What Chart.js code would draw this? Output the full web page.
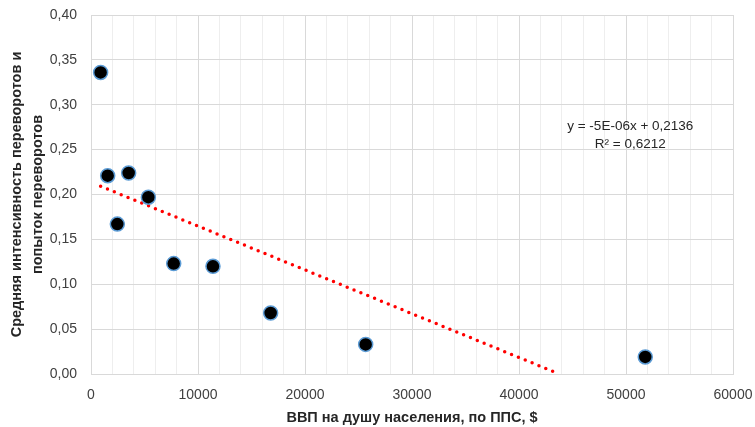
<!DOCTYPE html>
<html>
<head>
<meta charset="utf-8">
<script src="https://cdn.jsdelivr.net/npm/chart.js@4/dist/chart.umd.min.js"></script>
<style>
html,body{margin:0;padding:0;background:#fff;}
#wrap{width:755px;height:427px;position:relative;}
</style>
</head>
<body>
<div id="wrap"><canvas id="c" width="755" height="427"></canvas></div>
<script>
// Data
const gdpValues = [900, 1560, 2460, 3520, 5360, 7730, 11400, 16790, 25670, 51800];
const coupValues = [0.336, 0.221, 0.167, 0.224, 0.197, 0.123, 0.120, 0.068, 0.033, 0.019];
const trendX = [900, 43770];
const trendY = [0.2092, 0.0];
const equationLines = ['y = -5E-06x + 0,2136', 'R² = 0,6212'];
const equationAnchor = {x: 50400, y: 0.2765};
const xTitle = 'ВВП на душу населения, по ППС, $';
const yTitle = ['Средняя интенсивность переворотов и', 'попыток переворотов'];

const FONT = "'Liberation Sans', Arial, sans-serif";

const equationPlugin = {
  id: 'equation',
  afterDatasetsDraw(chart) {
    const {ctx, scales} = chart;
    const px = scales.x.getPixelForValue(equationAnchor.x);
    const py = scales.y.getPixelForValue(equationAnchor.y);
    ctx.save();
    ctx.font = "13.5px " + FONT;
    ctx.fillStyle = '#262626';
    ctx.textAlign = 'center';
    ctx.textBaseline = 'middle';
    equationLines.forEach((t, i) => ctx.fillText(t, px, py + i * 18));
    ctx.restore();
  }
};

new Chart(document.getElementById('c'), {
  type: 'scatter',
  data: {
    datasets: [
      {
        label: 'points',
        data: gdpValues.map((x, i) => ({x, y: coupValues[i]})),
        backgroundColor: '#000000',
        borderColor: '#5b9bd5',
        borderWidth: 1.5,
        pointRadius: 7,
        order: 1
      },
      {
        label: 'trend',
        type: 'line',
        data: trendX.map((x, i) => ({x, y: trendY[i]})),
        borderColor: '#ff0000',
        borderWidth: 3.5,
        borderDash: [0, 7.4],
        borderCapStyle: 'round',
        pointRadius: 0,
        fill: false,
        order: 2
      }
    ]
  },
  options: {
    responsive: false,
    animation: false,
    devicePixelRatio: 1,
    layout: {padding: {top: 15, right: 22, left: 0, bottom: 0}},
    plugins: {legend: {display: false}, tooltip: {enabled: false}},
    scales: {
      x: {
        type: 'linear',
        min: 0, max: 60000,
        afterBuildTicks(scale) {
          const t = [];
          for (let v = 0; v <= 60000; v += 2000) t.push({value: v});
          scale.ticks = t;
        },
        afterFit(scale) {
          scale.height = 53;
          scale.paddingLeft = 0;
          scale.paddingRight = 0;
        },
        grid: {
          color: (c) => (c.tick && c.tick.value % 10000 === 0) ? '#d9d9d9' : '#eeeeee',
          lineWidth: 1,
          drawTicks: false
        },
        border: {color: '#d9d9d9', width: 1},
        ticks: {
          padding: 13,
          maxRotation: 0,
          autoSkip: false,
          color: '#404040',
          font: {family: FONT, size: 14},
          callback: (v) => (v % 10000 === 0 ? String(v) : '')
        },
        title: {
          display: true,
          text: xTitle,
          color: '#262626',
          font: {family: FONT, size: 14.5, weight: 'bold'},
          padding: {top: 4, bottom: 0}
        }
      },
      y: {
        type: 'linear',
        min: 0, max: 0.40,
        afterFit(scale) {
          scale.width = 91;
          scale.paddingTop = 0;
          scale.paddingBottom = 0;
        },
        grid: {color: '#d9d9d9', lineWidth: 1, drawTicks: false},
        border: {color: '#d9d9d9', width: 1},
        ticks: {
          stepSize: 0.05,
          padding: 14,
          color: '#404040',
          font: {family: FONT, size: 14},
          callback: (v) => v.toFixed(2).replace('.', ',')
        },
        title: {
          display: true,
          text: yTitle,
          color: '#262626',
          font: {family: FONT, size: 14.5, weight: 'bold', lineHeight: 1.45},
          padding: {top: 6, bottom: 0}
        }
      }
    }
  },
  plugins: [equationPlugin]
});
</script>
</body>
</html>
